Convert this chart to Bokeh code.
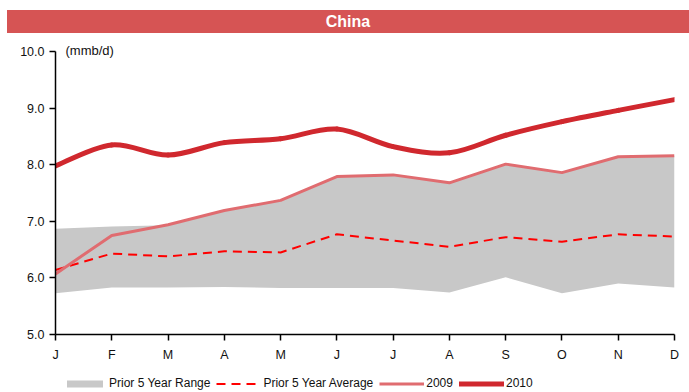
from bokeh.plotting import figure
from bokeh.models import (Range1d, FixedTicker, PrintfTickFormatter, Legend, LegendItem,
                          Div, ColumnDataSource)
from bokeh.layouts import column
from bokeh.embed import file_html
from bokeh.resources import INLINE

months = ["J", "F", "M", "A", "M", "J", "J", "A", "S", "O", "N", "D"]
range_low = [5.73, 5.83, 5.83, 5.84, 5.82, 5.82, 5.82, 5.74, 6.01, 5.73, 5.90, 5.83]
range_high = [6.87, 6.91, 6.93, 7.19, 7.37, 7.79, 7.82, 7.68, 8.01, 7.86, 8.14, 8.16]
avg5 = [6.14, 6.43, 6.38, 6.47, 6.45, 6.77, 6.66, 6.55, 6.72, 6.64, 6.77, 6.73]
y2009 = [6.07, 6.75, 6.94, 7.19, 7.37, 7.79, 7.82, 7.68, 8.01, 7.86, 8.14, 8.16]
y2010 = [7.98, 8.35, 8.17, 8.39, 8.46, 8.63, 8.32, 8.21, 8.52, 8.76, 8.96, 9.15]
y_ticks = [5, 6, 7, 8, 9, 10]
series_names = ["Prior 5 Year Range", "Prior 5 Year Average", "2009", "2010"]

FONT = "Liberation Sans"
TXT = "#111111"
C_RANGE, C_AVG, C_09, C_10 = "#C8C8C8", "#FF0000", "#E06C70", "#D0282E"
x = list(range(len(months)))

banner = Div(text="China", width=682, height=23, margin=(10, 0, 0, 7),
             styles={"background-color": "#D65454", "color": "white", "font-weight": "bold",
                     "font-family": FONT, "font-size": "16px", "text-align": "center",
                     "line-height": "23px", "width": "682px", "height": "23px"})

p = figure(width=689, height=335, output_backend="svg", toolbar_location=None,
           x_range=Range1d(0, 11), y_range=Range1d(5, 10),
           min_border_left=55, min_border_right=15, min_border_top=18, min_border_bottom=34)
p.outline_line_color = None
p.xgrid.visible = False
p.ygrid.visible = False

# unit label drawn as the plot title, pulled down onto the frame's top edge
p.title.text = "(mmb/d)"
p.title.align = "left"
p.title.offset = 10
p.title.text_font = FONT
p.title.text_font_size = "13px"
p.title.text_font_style = "normal"
p.title.text_color = TXT
p.title.standoff = -12

p.varea(x=x, y1=range_low, y2=range_high, fill_color=C_RANGE)
p.line(x=x, y=avg5, line_color=C_AVG, line_width=2, line_dash="9 6")
p.line(x=x, y=y2009, line_color=C_09, line_width=3)

# smooth (Catmull-Rom) curve for 2010 built as bezier segments from the data
n = len(y2010)
x0, y0, x1, y1, cx0, cy0, cx1, cy1 = ([] for _ in range(8))
for i in range(n - 1):
    pm = i - 1 if i > 0 else i
    pp = i + 2 if i + 2 < n else i + 1
    x0.append(x[i]); y0.append(y2010[i]); x1.append(x[i + 1]); y1.append(y2010[i + 1])
    cx0.append(x[i] + (x[i + 1] - x[pm]) / 6); cy0.append(y2010[i] + (y2010[i + 1] - y2010[pm]) / 6)
    cx1.append(x[i + 1] - (x[pp] - x[i]) / 6); cy1.append(y2010[i + 1] - (y2010[pp] - y2010[i]) / 6)
src = ColumnDataSource(dict(x0=x0, y0=y0, x1=x1, y1=y1, cx0=cx0, cy0=cy0, cx1=cx1, cy1=cy1))
p.bezier(x0="x0", y0="y0", x1="x1", y1="y1", cx0="cx0", cy0="cy0", cx1="cx1", cy1="cy1",
         source=src, line_color=C_10, line_width=5, line_cap="round")

p.yaxis.ticker = FixedTicker(ticks=y_ticks)
p.yaxis.formatter = PrintfTickFormatter(format="%.1f")
p.xaxis.ticker = FixedTicker(ticks=x)
p.xaxis.major_label_overrides = {i: m for i, m in enumerate(months)}
for ax in (p.xaxis[0], p.yaxis[0]):
    ax.axis_line_color = "#000000"
    ax.axis_line_width = 1.5
    ax.major_tick_line_color = "#000000"
    ax.major_tick_line_width = 1.5
    ax.major_tick_in = 0
    ax.major_tick_out = 6
    ax.minor_tick_line_color = None
    ax.major_label_text_font = FONT
    ax.major_label_text_font_size = "12.5px"
    ax.major_label_text_color = TXT
p.xaxis.major_label_standoff = 7
p.yaxis.major_label_standoff = 5

# legend strip (legend keys take their styles from off-range proxy glyphs)
lg = figure(width=689, height=24, output_backend="svg", toolbar_location=None,
            x_range=Range1d(0, 1), y_range=Range1d(0, 1),
            x_axis_location=None, y_axis_location=None,
            min_border_left=0, min_border_right=0, min_border_top=0, min_border_bottom=0)
lg.grid.visible = False
lg.outline_line_color = None
k_range = lg.varea(x=[5, 6], y1=[5, 5], y2=[6, 6], fill_color=C_RANGE)
k_avg = lg.line(x=[5, 6], y=[5, 5], line_color=C_AVG, line_width=2, line_dash="9 6")
k_09 = lg.line(x=[5, 6], y=[5, 5], line_color=C_09, line_width=3)
k_10 = lg.line(x=[5, 6], y=[5, 5], line_color=C_10, line_width=5, line_cap="round")
legend = Legend(items=[LegendItem(label=s, renderers=[r])
                       for s, r in zip(series_names, [k_range, k_avg, k_09, k_10])],
                orientation="horizontal", location=(7, 2), border_line_color=None,
                background_fill_alpha=0, label_text_font=FONT, label_text_font_size="12px",
                label_text_color=TXT, glyph_width=45, glyph_height=9,
                label_standoff=2, spacing=6, padding=0, margin=0)
lg.add_layout(legend)

layout = column(banner, p, lg, spacing=0)
open("out.html", "w").write(file_html(layout, INLINE))
